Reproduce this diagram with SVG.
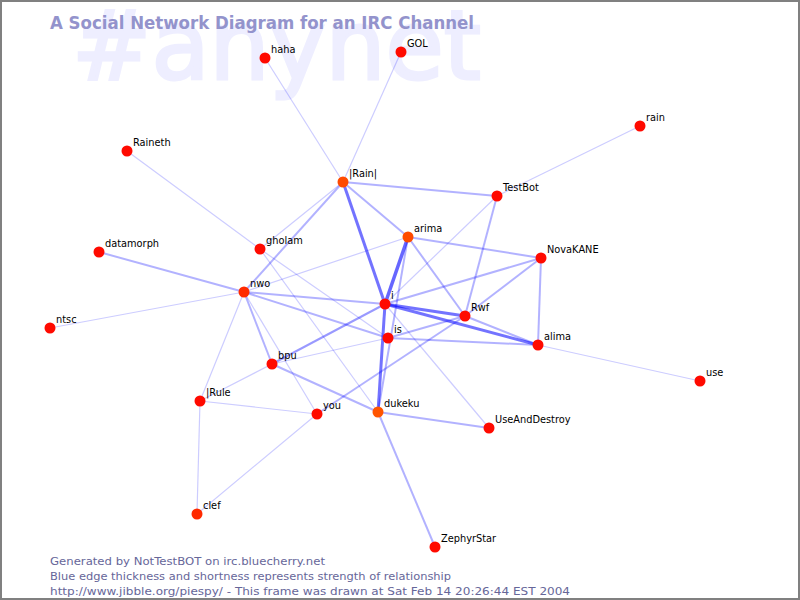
<svg xmlns="http://www.w3.org/2000/svg" width="800" height="600" viewBox="0 0 800 600">
<style>
.bg{fill:#ffffff}
.wm{font-family:"DejaVu Sans",sans-serif;font-size:96px;fill:#eeeeff;stroke:#eeeeff;stroke-width:3}
.title{font-family:"DejaVu Sans",sans-serif;font-size:17px;font-weight:bold;fill:#9393cc}
.foot{font-family:"DejaVu Sans",sans-serif;font-size:11px;fill:#666699}
.lbl{font-family:"DejaVu Sans",sans-serif;font-size:9.8px;fill:#000000}
.n{fill:#ff0a00}
.n2{fill:#ff2a00}
.n3{fill:#ff4a00}
.e1{stroke:#0000ff;stroke-opacity:0.2;stroke-width:1.2;fill:none}
.e2{stroke:#0000ff;stroke-opacity:0.3;stroke-width:2;fill:none}
.e3{stroke:#0000ff;stroke-opacity:0.55;stroke-width:3;fill:none}
</style>
<rect class="bg" x="0" y="0" width="800" height="600"/>
<text class="wm" x="72" y="79" textLength="409" lengthAdjust="spacingAndGlyphs">#anynet</text>
<text class="title" x="50" y="29" textLength="424" lengthAdjust="spacingAndGlyphs">A Social Network Diagram for an IRC Channel</text>
<g id="connectors">
<line class="e1" x1="265" y1="58" x2="343" y2="182"/>
<line class="e1" x1="401" y1="52" x2="343" y2="182"/>
<line class="e2" x1="343" y1="182" x2="497" y2="196"/>
<line class="e2" x1="343" y1="182" x2="408" y2="237"/>
<line class="e3" x1="343" y1="182" x2="385" y2="304"/>
<line class="e1" x1="343" y1="182" x2="260" y2="249"/>
<line class="e2" x1="343" y1="182" x2="244" y2="292"/>
<line class="e1" x1="127" y1="151" x2="260" y2="249"/>
<line class="e1" x1="640" y1="126" x2="497" y2="196"/>
<line class="e1" x1="497" y1="196" x2="385" y2="304"/>
<line class="e2" x1="497" y1="196" x2="465" y2="316"/>
<line class="e2" x1="408" y1="237" x2="541" y2="258"/>
<line class="e3" x1="408" y1="237" x2="385" y2="304" style="stroke-width:3.5;stroke-opacity:0.6"/>
<line class="e2" x1="408" y1="237" x2="465" y2="316"/>
<line class="e1" x1="408" y1="237" x2="244" y2="292"/>
<line class="e2" x1="408" y1="237" x2="378" y2="412"/>
<line class="e2" x1="541" y1="258" x2="385" y2="304"/>
<line class="e2" x1="541" y1="258" x2="465" y2="316"/>
<line class="e2" x1="541" y1="258" x2="538" y2="345"/>
<line class="e2" x1="99" y1="252" x2="244" y2="292"/>
<line class="e1" x1="50" y1="328" x2="244" y2="292"/>
<line class="e2" x1="244" y1="292" x2="385" y2="304"/>
<line class="e2" x1="244" y1="292" x2="388" y2="338"/>
<line class="e2" x1="244" y1="292" x2="272" y2="364"/>
<line class="e1" x1="244" y1="292" x2="317" y2="414"/>
<line class="e1" x1="244" y1="292" x2="200" y2="401"/>
<line class="e1" x1="260" y1="249" x2="388" y2="338"/>
<line class="e1" x1="260" y1="249" x2="378" y2="412"/>
<line class="e3" x1="385" y1="304" x2="465" y2="316"/>
<line class="e3" x1="385" y1="304" x2="538" y2="345"/>
<line class="e2" x1="385" y1="304" x2="272" y2="364" style="stroke-opacity:0.4"/>
<line class="e3" x1="385" y1="304" x2="378" y2="412"/>
<line class="e1" x1="385" y1="304" x2="489" y2="428"/>
<line class="e1" x1="388" y1="338" x2="272" y2="364"/>
<line class="e2" x1="388" y1="338" x2="465" y2="316"/>
<line class="e2" x1="388" y1="338" x2="538" y2="345"/>
<line class="e2" x1="465" y1="316" x2="538" y2="345"/>
<line class="e2" x1="465" y1="316" x2="317" y2="414"/>
<line class="e1" x1="538" y1="345" x2="700" y2="381"/>
<line class="e1" x1="272" y1="364" x2="200" y2="401"/>
<line class="e2" x1="272" y1="364" x2="378" y2="412"/>
<line class="e1" x1="200" y1="401" x2="317" y2="414"/>
<line class="e1" x1="200" y1="401" x2="197" y2="514"/>
<line class="e1" x1="317" y1="414" x2="197" y2="514"/>
<line class="e2" x1="378" y1="412" x2="489" y2="428"/>
<line class="e2" x1="378" y1="412" x2="435" y2="547"/>
</g>
<g id="node-haha"><circle class="n" cx="265" cy="58" r="5.5"/><text class="lbl" x="271" y="52.5">haha</text></g>
<g id="node-GOL"><circle class="n" cx="401" cy="52" r="5.5"/><text class="lbl" x="407" y="46.5">GOL</text></g>
<g id="node-rain"><circle class="n" cx="640" cy="126" r="5.5"/><text class="lbl" x="646" y="120.5">rain</text></g>
<g id="node-Raineth"><circle class="n" cx="127" cy="151" r="5.5"/><text class="lbl" x="133" y="145.5">Raineth</text></g>
<g id="node-Rain"><circle class="n3" cx="343" cy="182" r="5.5"/><text class="lbl" x="349" y="176.5">|Rain|</text></g>
<g id="node-TestBot"><circle class="n" cx="497" cy="196" r="5.5"/><text class="lbl" x="503" y="190.5">TestBot</text></g>
<g id="node-arima"><circle class="n3" cx="408" cy="237" r="5.5"/><text class="lbl" x="414" y="231.5">arima</text></g>
<g id="node-gholam"><circle class="n" cx="260" cy="249" r="5.5"/><text class="lbl" x="266" y="243.5">gholam</text></g>
<g id="node-NovaKANE"><circle class="n" cx="541" cy="258" r="5.5"/><text class="lbl" x="547" y="252.5">NovaKANE</text></g>
<g id="node-datamorph"><circle class="n" cx="99" cy="252" r="5.5"/><text class="lbl" x="105" y="246.5">datamorph</text></g>
<g id="node-nwo"><circle class="n2" cx="244" cy="292" r="5.5"/><text class="lbl" x="250" y="286.5">nwo</text></g>
<g id="node-i"><circle class="n" cx="385" cy="304" r="5.5"/><text class="lbl" x="391" y="298.5">i</text></g>
<g id="node-Rwf"><circle class="n" cx="465" cy="316" r="5.5"/><text class="lbl" x="471" y="310.5">Rwf</text></g>
<g id="node-is"><circle class="n" cx="388" cy="338" r="5.5"/><text class="lbl" x="394" y="332.5">is</text></g>
<g id="node-alima"><circle class="n" cx="538" cy="345" r="5.5"/><text class="lbl" x="544" y="339.5">alima</text></g>
<g id="node-ntsc"><circle class="n" cx="50" cy="328" r="5.5"/><text class="lbl" x="56" y="322.5">ntsc</text></g>
<g id="node-bpu"><circle class="n" cx="272" cy="364" r="5.5"/><text class="lbl" x="278" y="358.5">bpu</text></g>
<g id="node-use"><circle class="n" cx="700" cy="381" r="5.5"/><text class="lbl" x="706" y="375.5">use</text></g>
<g id="node-IRule"><circle class="n" cx="200" cy="401" r="5.5"/><text class="lbl" x="206" y="395.5">|Rule</text></g>
<g id="node-you"><circle class="n" cx="317" cy="414" r="5.5"/><text class="lbl" x="323" y="408.5">you</text></g>
<g id="node-dukeku"><circle class="n3" cx="378" cy="412" r="5.5" style="fill:#ff5500"/><text class="lbl" x="384" y="406.5">dukeku</text></g>
<g id="node-UseAndDestroy"><circle class="n" cx="489" cy="428" r="5.5"/><text class="lbl" x="495" y="422.5">UseAndDestroy</text></g>
<g id="node-clef"><circle class="n2" cx="197" cy="514" r="5.5"/><text class="lbl" x="203" y="508.5">clef</text></g>
<g id="node-ZephyrStar"><circle class="n" cx="435" cy="547" r="5.5"/><text class="lbl" x="441" y="541.5">ZephyrStar</text></g>
<g id="footer">
<text class="foot" x="50" y="565" textLength="275" lengthAdjust="spacingAndGlyphs">Generated by NotTestBOT on irc.bluecherry.net</text>
<text class="foot" x="50" y="580" textLength="401" lengthAdjust="spacingAndGlyphs">Blue edge thickness and shortness represents strength of relationship</text>
<text class="foot" x="50" y="595" textLength="520" lengthAdjust="spacingAndGlyphs">http://www.jibble.org/piespy/ - This frame was drawn at Sat Feb 14 20:26:44 EST 2004</text>
</g>
<rect x="1" y="1" width="798" height="598" fill="none" stroke="#808080" stroke-width="2"/>
</svg>
